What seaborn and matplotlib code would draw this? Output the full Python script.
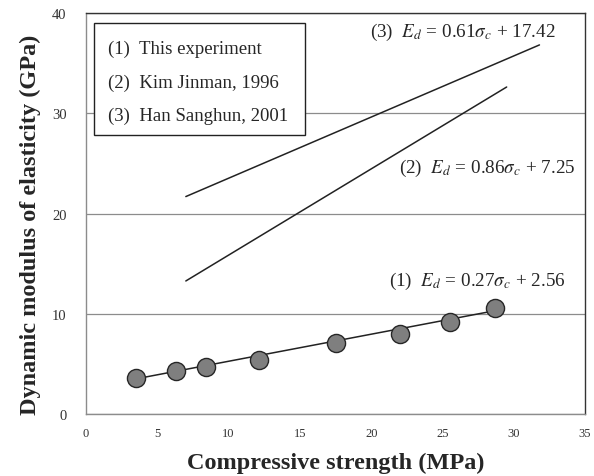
import matplotlib
matplotlib.use("Agg")
import matplotlib.pyplot as plt
from matplotlib.patches import Rectangle
import seaborn as sns
import numpy as np
import pandas as pd

# data
strength = [3.5, 6.3, 8.4, 12.1, 17.5, 22.0, 25.5, 28.7]
modulus = [3.6, 4.3, 4.7, 5.4, 7.05, 8.0, 9.2, 10.6]
fit_x = {"(1)": [3.5, 28.7], "(2)": [7.0, 29.5], "(3)": [7.0, 31.8]}
fit_coef = {"(1)": (0.27, 2.56), "(2)": (0.86, 7.25), "(3)": (0.61, 17.42)}
legend_items = ["(1)  This experiment", "(2)  Kim Jinman, 1996", "(3)  Han Sanghun, 2001"]
x_ticks = [0, 5, 10, 15, 20, 25, 30, 35]
y_ticks = [0, 10, 20, 30, 40]

sns.set_style("white")
plt.rcParams['font.family'] = ['Liberation Serif', 'DejaVu Serif']
plt.rcParams['mathtext.fontset'] = 'stix'

fig = plt.figure(figsize=(5.94, 4.77), dpi=100)
ax = fig.add_axes([0.1448, 0.13, 0.8402, 0.8406])

rows = []
for k, (a, b) in fit_coef.items():
    for xv in fit_x[k]:
        rows.append({"x": xv, "y": a * xv + b, "line": k})
lines_df = pd.DataFrame(rows)
sns.lineplot(data=lines_df, x="x", y="y", units="line", estimator=None,
             color="#222222", linewidth=1.1, ax=ax, legend=False)

pts = pd.DataFrame({"x": strength, "y": modulus})
sns.scatterplot(data=pts, x="x", y="y", s=170, color="#7f7f7f",
                edgecolor="#262626", linewidth=1.0, ax=ax, zorder=3, legend=False)

ax.set_xlim(0, 35)
ax.set_ylim(0, 40)
ax.set_xticks(x_ticks)
ax.set_yticks(y_ticks)
ax.tick_params(axis='x', labelsize=9, colors="#8c8c8c", labelcolor="#333333",
               length=5, width=0.9, direction='inout', pad=7)
ax.tick_params(axis='y', labelsize=10.5, colors="#8c8c8c", labelcolor="#333333",
               length=3, width=0.9, direction='out', pad=11)
ax.yaxis.grid(True, color="#8c8c8c", linewidth=0.9)
ax.set_axisbelow(True)
for s in ["left", "bottom"]:
    ax.spines[s].set_color("#8c8c8c")
    ax.spines[s].set_linewidth(1.0)
for s in ["top", "right"]:
    ax.spines[s].set_color("#333333")
    ax.spines[s].set_linewidth(1.0)

ax.set_xlabel("Compressive strength (MPa)", fontsize=17.5, fontweight='bold', labelpad=9)
ax.set_ylabel("Dynamic modulus of elasticity (GPa)", fontsize=17.5, fontweight='bold', labelpad=8)
ax.yaxis.label.set_y(0.474)

ax.add_patch(Rectangle((0.016, 0.696), 0.423, 0.279, transform=ax.transAxes,
                       facecolor='white', edgecolor='#222222', linewidth=1.0, zorder=4))
for yy, item in zip([0.913, 0.828, 0.746], legend_items):
    ax.text(0.044, yy, item, transform=ax.transAxes, fontsize=13.5,
            ha='left', va='center', zorder=5)

ax.text(0.569, 0.955, r"(3)  $E_d$ = 0.61$\sigma_c$ + 17.42", transform=ax.transAxes,
        fontsize=13.8, ha='left', va='center')
ax.text(0.627, 0.615, r"(2)  $E_d$ = 0.86$\sigma_c$ + 7.25", transform=ax.transAxes,
        fontsize=13.8, ha='left', va='center')
ax.text(0.607, 0.334, r"(1)  $E_d$ = 0.27$\sigma_c$ + 2.56", transform=ax.transAxes,
        fontsize=13.8, ha='left', va='center')

fig.savefig("out.png", dpi=100)
